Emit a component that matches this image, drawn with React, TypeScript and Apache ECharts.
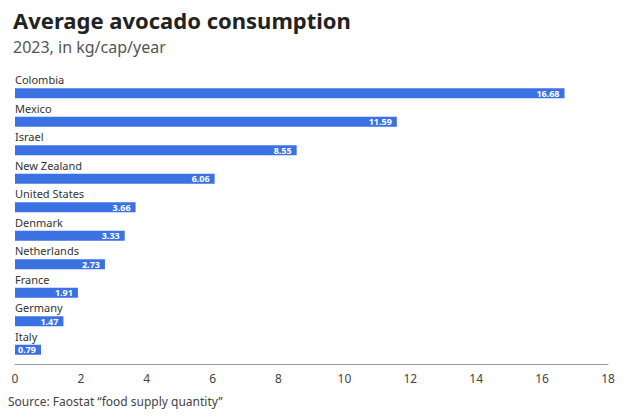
import { useEffect, useRef } from 'react';
import * as echarts from 'echarts';

const countries = ['Colombia', 'Mexico', 'Israel', 'New Zealand', 'United States', 'Denmark', 'Netherlands', 'France', 'Germany', 'Italy'];
const consumption = [16.68, 11.59, 8.55, 6.06, 3.66, 3.33, 2.73, 1.91, 1.47, 0.79];

const FONT = '"Source Sans Pro", "Noto Sans", "Open Sans", sans-serif';

export default function App() {
  const chartRef = useRef<HTMLDivElement>(null);

  useEffect(() => {
    if (!chartRef.current) return;
    const chart = echarts.init(chartRef.current, undefined, { renderer: 'svg' });

    const option: echarts.EChartsOption = {
      animation: false,
      textStyle: { fontFamily: FONT },
      title: {
        text: 'Average avocado consumption',
        subtext: '2023, in kg/cap/year',
        left: 0,
        top: 4,
        itemGap: 8,
        textStyle: { fontFamily: FONT, fontSize: 22, fontWeight: 'bold', color: '#222' },
        subtextStyle: { fontFamily: FONT, fontSize: 16, color: '#555' },
      },
      graphic: [
        {
          type: 'text',
          left: 0,
          top: 395,
          style: { text: 'Source: Faostat \u201cfood supply quantity\u201d', fontFamily: FONT, fontSize: 12, fill: '#444' },
        },
      ],
      grid: { left: 7, right: 10, top: 79, bottom: 53 },
      xAxis: {
        type: 'value',
        min: 0,
        max: 18,
        interval: 2,
        axisLine: { show: true, lineStyle: { color: '#999' } },
        axisTick: { show: false },
        splitLine: { show: false },
        axisLabel: { color: '#444', fontSize: 12, margin: 8, fontFamily: FONT },
      },
      yAxis: {
        type: 'category',
        inverse: true,
        data: countries,
        axisLine: { show: false },
        axisTick: { show: false },
        axisLabel: {
          inside: true,
          margin: 0,
          align: 'left',
          verticalAlign: 'bottom',
          padding: [0, 0, 8, 0],
          color: '#333',
          fontSize: 11,
          fontFamily: FONT,
        },
        z: 10,
      },
      series: [
        {
          type: 'bar',
          data: consumption,
          barWidth: 10,
          itemStyle: { color: '#3b72e3' },
          label: {
            show: true,
            position: 'insideRight',
            color: '#fff',
            fontSize: 9,
            fontWeight: 'bold',
            fontFamily: FONT,
            formatter: (p: any) => p.value.toFixed(2),
          },
        },
      ],
    };

    chart.setOption(option);
    return () => chart.dispose();
  }, []);

  return <div ref={chartRef} style={{ width: 610, height: 417, marginTop: -8 }} />;
}
